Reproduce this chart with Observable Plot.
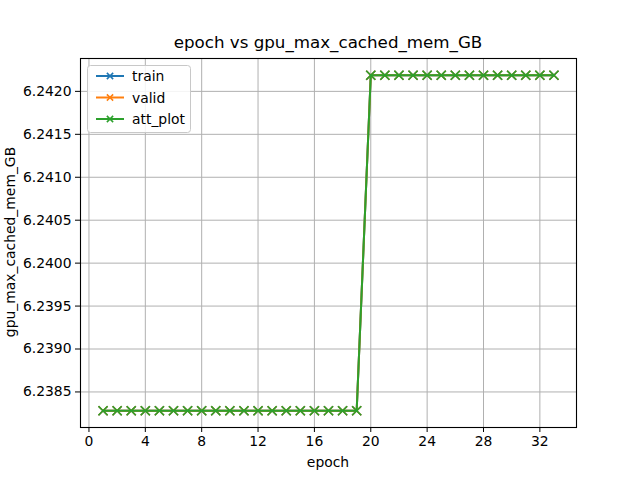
<!DOCTYPE html>
<html>
<head>
<meta charset="utf-8">
<script src="https://cdn.jsdelivr.net/npm/d3@7"></script>
<script src="https://cdn.jsdelivr.net/npm/@observablehq/plot@0.6"></script>
<style>
  html, body { margin: 0; padding: 0; background: #fff; }
  #chart svg { display: block; }
</style>
</head>
<body>
<div id="chart"></div>
<script>
const epochs = [1,2,3,4,5,6,7,8,9,10,11,12,13,14,15,16,17,18,19,20,21,22,23,24,25,26,27,28,29,30,31,32,33];
const train = [6.23828125,6.23828125,6.23828125,6.23828125,6.23828125,6.23828125,6.23828125,6.23828125,6.23828125,6.23828125,6.23828125,6.23828125,6.23828125,6.23828125,6.23828125,6.23828125,6.23828125,6.23828125,6.23828125,6.2421875,6.2421875,6.2421875,6.2421875,6.2421875,6.2421875,6.2421875,6.2421875,6.2421875,6.2421875,6.2421875,6.2421875,6.2421875,6.2421875];
const valid = [6.23828125,6.23828125,6.23828125,6.23828125,6.23828125,6.23828125,6.23828125,6.23828125,6.23828125,6.23828125,6.23828125,6.23828125,6.23828125,6.23828125,6.23828125,6.23828125,6.23828125,6.23828125,6.23828125,6.2421875,6.2421875,6.2421875,6.2421875,6.2421875,6.2421875,6.2421875,6.2421875,6.2421875,6.2421875,6.2421875,6.2421875,6.2421875,6.2421875];
const att_plot = [6.23828125,6.23828125,6.23828125,6.23828125,6.23828125,6.23828125,6.23828125,6.23828125,6.23828125,6.23828125,6.23828125,6.23828125,6.23828125,6.23828125,6.23828125,6.23828125,6.23828125,6.23828125,6.23828125,6.2421875,6.2421875,6.2421875,6.2421875,6.2421875,6.2421875,6.2421875,6.2421875,6.2421875,6.2421875,6.2421875,6.2421875,6.2421875,6.2421875];
const seriesNames = ["train", "valid", "att_plot"];
const seriesColors = ["#1f77b4", "#ff7f0e", "#2ca02c"];
const xTicks = [0,4,8,12,16,20,24,28,32];
const yTicks = [6.2385,6.2390,6.2395,6.2400,6.2405,6.2410,6.2415,6.2420];
const titleText = "epoch vs gpu_max_cached_mem_GB";
const xLabel = "epoch";
const yLabel = "gpu_max_cached_mem_GB";

const allSeries = [train, valid, att_plot];
const rows = [];
allSeries.forEach((vals, si) => {
  vals.forEach((v, i) => rows.push({epoch: epochs[i], value: v, series: seriesNames[si]}));
});

const xMin = d3.min(epochs), xMax = d3.max(epochs);
const yMin = d3.min(rows, d => d.value), yMax = d3.max(rows, d => d.value);
const xPad = (xMax - xMin) * 0.05, yPad = (yMax - yMin) * 0.05;

const font = "'DejaVu Sans', sans-serif";
const marks = [
  Plot.gridX(xTicks, {stroke: "#b0b0b0", strokeOpacity: 1, strokeWidth: 1}),
  Plot.gridY(yTicks, {stroke: "#b0b0b0", strokeOpacity: 1, strokeWidth: 1}),
  Plot.axisX(xTicks, {tickSize: 5, tickPadding: 4, fontSize: 13.9, label: null, stroke: "#000"}),
  Plot.axisY(yTicks, {tickSize: 5, tickPadding: 4, fontSize: 13.9, label: null, tickFormat: d3.format(".4f"), stroke: "#000"})
];
seriesNames.forEach((name, si) => {
  const data = rows.filter(r => r.series === name);
  marks.push(Plot.line(data, {x: "epoch", y: "value", stroke: seriesColors[si], strokeWidth: 2}));
  marks.push(Plot.dot(data, {x: "epoch", y: "value", symbol: "times", r: 4.2, stroke: seriesColors[si], strokeWidth: 1.5}));
});
marks.push(Plot.frame({stroke: "#000", strokeWidth: 1.1}));

const chart = Plot.plot({
  width: 640, height: 480,
  marginLeft: 80, marginRight: 64, marginTop: 58, marginBottom: 53,
  style: {fontFamily: font, fontSize: "13.9px", color: "#000", background: "#fff"},
  x: {domain: [xMin - xPad, xMax + xPad]},
  y: {domain: [yMin - yPad, yMax + yPad]},
  marks
});
document.getElementById("chart").appendChild(chart);

const svg = d3.select(chart);
svg.selectAll("g[aria-label='x-axis tick label'] text, g[aria-label='y-axis tick label'] text").attr("fill", "#000");

svg.append("text").attr("x", 328).attr("y", 48).attr("text-anchor", "middle")
  .attr("font-family", font).attr("font-size", 16.7).attr("fill", "#000").text(titleText);
svg.append("text").attr("x", 328).attr("y", 467).attr("text-anchor", "middle")
  .attr("font-family", font).attr("font-size", 13.9).attr("fill", "#000").text(xLabel);
svg.append("text").attr("transform", "translate(15,242) rotate(-90)").attr("text-anchor", "middle")
  .attr("font-family", font).attr("font-size", 13.9).attr("fill", "#000").text(yLabel);

const lg = svg.append("g").attr("text-anchor", "start");
lg.append("rect").attr("x", 87.5).attr("y", 65.5).attr("width", 103).attr("height", 67).attr("rx", 3).attr("ry", 3)
  .style("fill", "#ffffff").style("fill-opacity", "0.85").style("stroke", "#c8c8c8").style("stroke-width", "1");
seriesNames.forEach((name, si) => {
  const cy = 76 + si * 21.5;
  lg.append("line").attr("x1", 96).attr("x2", 124).attr("y1", cy).attr("y2", cy)
    .attr("stroke", seriesColors[si]).attr("stroke-width", 2);
  const s = 4.2 * 0.75;
  lg.append("path").attr("d", `M${110-s},${cy-s}L${110+s},${cy+s}M${110-s},${cy+s}L${110+s},${cy-s}`)
    .attr("fill", "none").attr("stroke", seriesColors[si]).attr("stroke-width", 1.5);
  lg.append("text").attr("x", 132).attr("y", cy + 5).attr("text-anchor", "start").attr("font-family", font).attr("font-size", 13.9)
    .attr("fill", "#000").text(name);
});
</script>
</body>
</html>
